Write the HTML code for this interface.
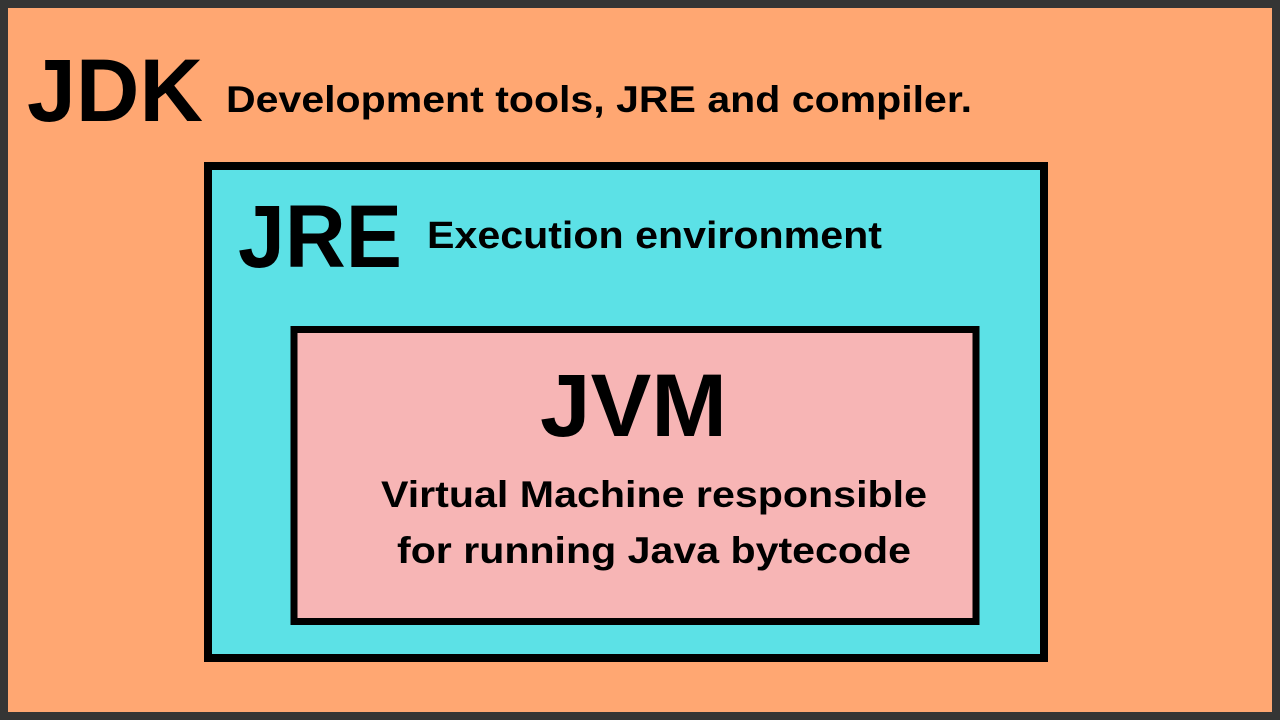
<!DOCTYPE html>
<html><head><meta charset="utf-8"><style>html,body{margin:0;padding:0;background:#333;width:1280px;height:720px;overflow:hidden}svg{display:block}</style></head><body>
<svg width="1280" height="720" viewBox="0 0 1280 720" xmlns="http://www.w3.org/2000/svg" font-family="Liberation Sans, sans-serif" font-weight="bold" fill="#000">
<rect x="0" y="0" width="1280" height="720" fill="#353535"/>
<rect x="8" y="8" width="1264" height="704" fill="#FFA772"/>
<rect x="208" y="166" width="836" height="492" fill="#5CE1E6" stroke="#000" stroke-width="8"/>
<rect x="294" y="329.5" width="682" height="292" fill="#F7B5B5" stroke="#000" stroke-width="7"/>
<text x="27" y="121" font-size="89" textLength="176" lengthAdjust="spacingAndGlyphs">JDK</text>
<text x="226" y="112" font-size="37" textLength="746" lengthAdjust="spacingAndGlyphs">Development tools, JRE and compiler.</text>
<text x="238" y="267" font-size="89" textLength="164" lengthAdjust="spacingAndGlyphs">JRE</text>
<text x="427" y="248" font-size="38" textLength="455" lengthAdjust="spacingAndGlyphs">Execution environment</text>
<text x="540" y="436" font-size="89" textLength="187" lengthAdjust="spacingAndGlyphs">JVM</text>
<text x="381" y="507" font-size="37" textLength="546" lengthAdjust="spacingAndGlyphs">Virtual Machine responsible</text>
<text x="397" y="563" font-size="37" textLength="514" lengthAdjust="spacingAndGlyphs">for running Java bytecode</text>
</svg>
</body></html>
